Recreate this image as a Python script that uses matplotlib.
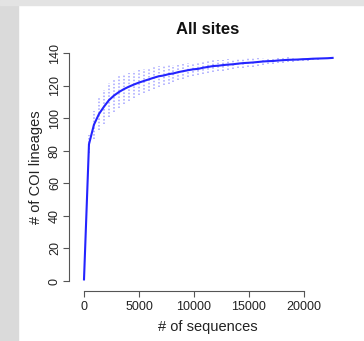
import matplotlib
matplotlib.use("Agg")
import matplotlib.pyplot as plt
from matplotlib.patches import Rectangle

plt.rcParams['font.family'] = ['Liberation Sans', 'DejaVu Sans']

# rarefaction: mean number of sequences at each step
sequences = [0, 452, 904, 1356, 1808, 2260, 2712, 3164, 3616, 4068,
             4520, 4972, 5424, 5876, 6328, 6780, 7232, 7684, 8136, 8588,
             9040, 9492, 9944, 10396, 10848, 11300, 11752, 12204, 12656, 13108,
             13560, 14012, 14464, 14916, 15368, 15820, 16272, 16724, 17176, 17628,
             18080, 18532, 18984, 19436, 19888, 20340, 20792, 21244, 21696, 22148,
             22600]
lineages = [1, 84, 96, 102.5, 107, 111, 113.8, 116, 117.8, 119.3,
            120.6, 121.8, 122.8, 123.8, 124.8, 125.7, 126.2, 127.0, 127.5, 128.3,
            128.9, 129.5, 130.0, 130.3, 131.0, 131.5, 132.0, 132.2, 132.6, 132.9,
            133.1, 133.5, 133.8, 134.0, 134.2, 134.5, 134.8, 135.0, 135.1, 135.4,
            135.6, 135.8, 135.9, 136.0, 136.2, 136.3, 136.5, 136.6, 136.7, 136.8,
            137.0]
sd = [0, 5.5, 8.7, 10, 10.4, 10.5, 10.1, 9.7, 9.2, 8.7,
      8.2, 7.7, 7.4, 7.1, 6.8, 6.5, 6.1, 5.8, 5.4, 5.0,
      4.6, 4.3, 4.0, 3.9, 3.8, 3.7, 3.6, 3.5, 3.4, 3.3,
      3.1, 3.0, 2.8, 2.7, 2.5, 2.3, 2.2, 2.0, 1.9, 1.8,
      1.6, 1.5, 1.3, 1.2, 1.0, 0.9, 0.7, 0.6, 0.4, 0.3,
      0]

xticks = [0, 5000, 10000, 15000, 20000]
yticks = [0, 20, 40, 60, 80, 100, 120, 140]

W, H = 364, 341
fig = plt.figure(figsize=(W / 100, H / 100), dpi=100)
fig.patch.set_facecolor('white')
# grey frame on left and top, like the screenshot
fig.patches.append(Rectangle((0, 0), 18 / W, 1, transform=fig.transFigure,
                             color='#dadada', zorder=-5))
fig.patches.append(Rectangle((0, 1 - 5 / H), 1, 5 / H, transform=fig.transFigure,
                             color='#e3e3e3', zorder=-5))

left, right, top, bottom = 69, 347.6, 46.5, 291
ax = fig.add_axes([left / W, (H - bottom) / H, (right - left) / W, (bottom - top) / H])
ax.set_facecolor('none')

lo = [m - s for m, s in zip(lineages, sd)]
hi = [m + s for m, s in zip(lineages, sd)]
ax.vlines(sequences[1:], lo[1:], hi[1:], colors='#a4a4ff', linewidth=1.1,
          linestyles=(0, (1, 1.2)))
ax.plot(sequences, lineages, color='#2424ff', linewidth=1.5)

ax.set_xlim(-1364, 23964)
ax.set_ylim(-6.1, 144)

for s in ['top', 'right']:
    ax.spines[s].set_visible(False)
ax.spines['left'].set_bounds(0, 140)
ax.spines['bottom'].set_bounds(0, 20000)
for s in ['left', 'bottom']:
    ax.spines[s].set_color('#555555')
    ax.spines[s].set_linewidth(0.8)

ax.set_xticks(xticks)
ax.set_yticks(yticks)
ax.tick_params(axis='both', direction='out', length=4.3, width=0.8,
               color='#555555', labelcolor='#222222', labelsize=9)
ax.tick_params(axis='x', pad=3)
ax.tick_params(axis='y', pad=1.5)
for lab in ax.get_yticklabels():
    lab.set_rotation(90)
    lab.set_va('center')

fig.text(207.5 / W, 1 - 29 / H, 'All sites', ha='center', va='center',
         fontsize=12, fontweight='bold', color='#111111')
fig.text(207.5 / W, 1 - 327 / H, '# of sequences', ha='center', va='center',
         fontsize=10.5, color='#222222')
fig.text(36 / W, 1 - 167 / H, '# of COI lineages', ha='center', va='center',
         fontsize=10.5, color='#222222', rotation=90)

fig.savefig('out.png', dpi=100)
